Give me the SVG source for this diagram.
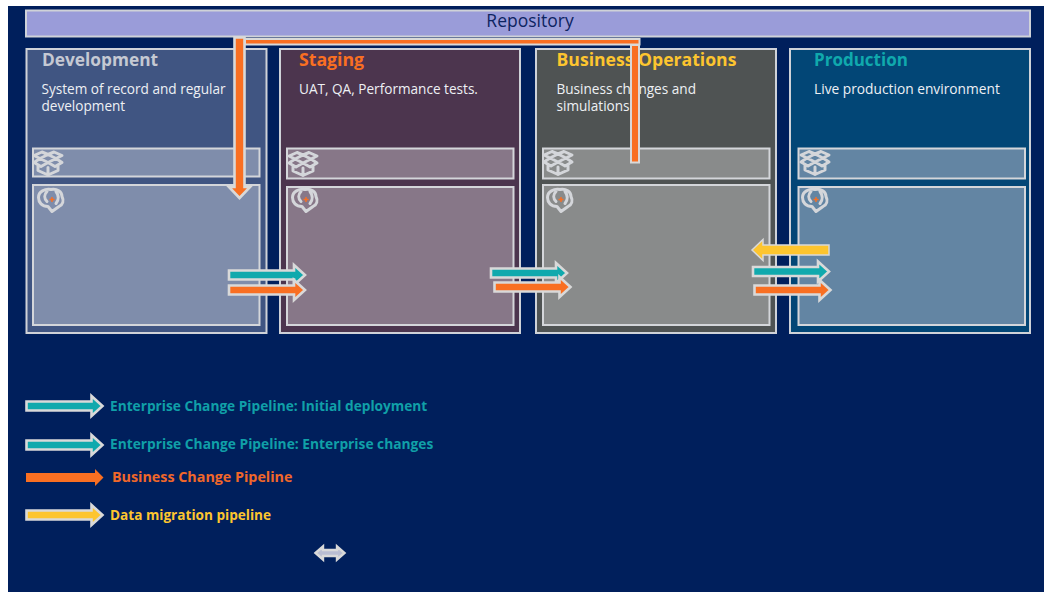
<svg xmlns="http://www.w3.org/2000/svg" width="1044" height="592" viewBox="0 0 1044 592">
<style>
.f{font-family:"Open Sans","Noto Sans","DejaVu Sans",sans-serif}
.t{font-weight:700}
.d{font-size:13.600px;fill:#eef0f4}
.l{font-weight:700}
.o{stroke:#cfd2d8;stroke-width:2}
.i{fill:#fff;fill-opacity:.33;stroke:#d4d6da;stroke-width:2}
.ic{fill:none;stroke:#d4d6da;stroke-width:3;stroke-linejoin:round;stroke-linecap:round}
.a{stroke:#d9d9d9;stroke-width:2.600}
.teal{fill:#10a9ad}.or{fill:#f96f22}.ye{fill:#fdc52f}
</style>
<defs>
<g id="box"><path class="ic" d="M-8 -5L0 -9L8 -5L0 -1ZM-8 -5L-14 -8L-6 -11.500L0 -9L6 -11.500L14 -8L8 -5M0 -1L-7 3L-14 -1L-8 -5M0 -1L7 3L14 -1L8 -5M-10 2V7L0 11.500L10 7V2M0 4V11.500"/></g>
<g id="brain"><path class="ic" d="M1 12L-3 7C-9 7-12.500 3-12.500-2C-12.500-8-6-11 0-10C6-11 11-8 11-3C13 1 12 5 8 7L1 12ZM-4-8C-7-5-7-1-4 2M5-8C8-4 8 0 5 4"/><path d="M-1.500 0H3.500M1 -2.500V2.500" stroke="#f96f22" stroke-width="1.400" fill="none"/></g>
<path id="ar" d="M1 -4.500H66V-10L77 0L66 10V4.500H1Z"/>
</defs>
<rect width="1044" height="592" fill="#fff"/>
<rect x="8" y="6" width="1036" height="586" fill="#001f5c"/>
<g id="repository"><rect x="26" y="10.500" width="1004" height="26" fill="#9a9cd9" stroke="#cfd2d8" stroke-width="2"/><text class="f" x="530" y="27" font-size="17.500" fill="#0d2461" text-anchor="middle">Repository</text></g>
<g id="development"><rect x="26.500" y="49" width="240" height="284" class="o" style="fill:#405582"/><text class="f t" x="42" y="66" font-size="17.300" fill="#c5c9d3">Development</text><text class="f d" x="41.500" y="94">System of record and regular</text><text class="f d" x="41.500" y="111">development</text><rect class="i" x="33" y="148.500" width="226.500" height="28"/><use href="#box" x="48" y="163.500"/><rect class="i" x="33" y="185" width="226.500" height="140"/><use href="#brain" x="51" y="199.500"/></g>
<g id="staging"><rect x="280" y="49" width="240" height="284" class="o" style="fill:#4c354e"/><text class="f t" x="299" y="66" font-size="17.700" fill="#f96f22">Staging</text><text class="f d" x="299" y="94">UAT, QA, Performance tests.</text><rect class="i" x="287" y="148.500" width="226.500" height="30"/><use href="#box" x="303" y="164"/><rect class="i" x="287" y="187" width="226.500" height="138"/><use href="#brain" x="305" y="199.500"/></g>
<g id="business-operations"><rect x="536" y="49" width="240" height="284" class="o" style="fill:#4f5353"/><text class="f t" x="556.500" y="66" font-size="17.600" fill="#fdc52f">Business Operations</text><text class="f d" x="556.500" y="94">Business changes and</text><text class="f d" x="556.500" y="111">simulations</text><rect class="i" x="543" y="148.500" width="226.500" height="30"/><use href="#box" x="558" y="163"/><rect class="i" x="543" y="185" width="226.500" height="140"/><use href="#brain" x="560" y="199.500"/></g>
<g id="production"><rect x="790" y="49" width="240" height="284" class="o" style="fill:#024676"/><text class="f t" x="814" y="66" font-size="17" fill="#10a9ad">Production</text><text class="f d" x="814" y="94" style="font-size:13.750px">Live production environment</text><rect x="798.500" y="148.500" width="226.500" height="30" fill="#6385a3" stroke="#d4d6da" stroke-width="2"/><use href="#box" x="815" y="163"/><rect x="798.500" y="187" width="226.500" height="138" fill="#6385a3" stroke="#d4d6da" stroke-width="2"/><use href="#brain" x="815" y="199.500"/></g>
<g id="connectors">
<rect class="or" x="245" y="39" width="394.500" height="5.500" stroke="#d9d9d9" stroke-width="2"/>
<rect class="or" x="631" y="45" width="8" height="117.500" stroke="#d9d9d9" stroke-width="2"/>
<path class="or a" d="M234.500 37.500H244.500V187H250L239.500 198L229 187H234.500Z"/>
<use href="#ar" class="teal a" x="228" y="275"/>
<use href="#ar" class="or a" x="228" y="290"/>
<use href="#ar" class="teal a" x="490" y="273"/>
<use href="#ar" class="or a" x="493.500" y="287"/>
<path class="ye" stroke="#d9d9d9" stroke-width="1.500" d="M829 245V255H763V260.500L752 250L763 239.500V245Z"/>
<use href="#ar" class="teal a" x="752" y="271.500"/>
<use href="#ar" class="or a" x="753.500" y="290"/>
</g>
<g id="legend">
<use href="#ar" class="teal a" x="25.500" y="406"/>
<use href="#ar" class="teal a" x="25.500" y="445"/>
<path class="or" d="M26 473H95V469L103.500 477.500L95 486V482H26Z"/>
<use href="#ar" class="ye a" x="25.500" y="515"/>
<text class="f l" x="110" y="411" font-size="13.700" fill="#10a0a8">Enterprise Change Pipeline: Initial deployment</text>
<text class="f l" x="110" y="449" font-size="13.780" fill="#10a0a8">Enterprise Change Pipeline: Enterprise changes</text>
<text class="f l" x="112" y="482" font-size="14.300" fill="#f0672a">Business Change Pipeline</text>
<text class="f l" x="110" y="520" font-size="13.600" fill="#fdc52f">Data migration pipeline</text>
<path fill="#b9bdd2" stroke="#d9d9d9" stroke-width="2.400" d="M315.500 553L323 546.500V550H337V546.500L344.500 553L337 559.500V556H323V559.500Z"/>
</g>
</svg>
